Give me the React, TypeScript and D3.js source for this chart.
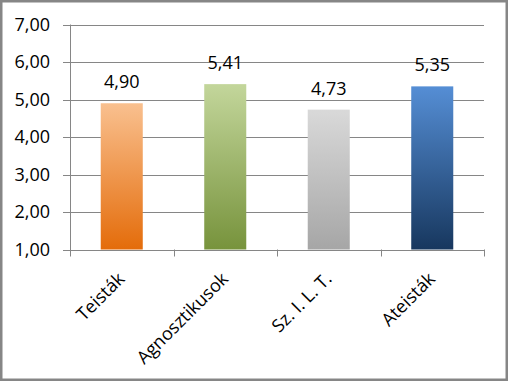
import React from "react";
import * as d3 from "d3";

const categories = ["Teisták", "Agnosztikusok", "Sz. I. L. T.", "Ateisták"];
const values = [4.9, 5.41, 4.73, 5.35];
const valueLabels = ["4,90", "5,41", "4,73", "5,35"];
const yTicks = [1, 2, 3, 4, 5, 6, 7];
const gradTop = ["#F9C08F", "#C3D69B", "#D9D9D9", "#558ED5"];
const gradBottom = ["#E46C0A", "#77933C", "#A6A6A6", "#17375E"];

const W = 508;
const H = 381;
const FONT = "'Open Sans', 'DejaVu Sans', sans-serif";

export default function App() {
  const y = d3.scaleLinear().domain([1, 7]).range([249.5, 24.5]);
  const p = 0.594;
  const x = d3
    .scaleBand<string>()
    .domain(categories)
    .range([70, 484])
    .paddingInner(p)
    .paddingOuter(p / 2);
  const step = x.step();
  const fmt = (v: number) => v.toFixed(2).replace(".", ",");
  const grid = "#868686";

  return (
    <svg
      width={W}
      height={H}
      style={{ position: "absolute", left: 0, top: 0, display: "block" }}
      fontFamily={FONT}
    >
      <defs>
        {categories.map((c, i) => (
          <linearGradient key={c} id={`g${i}`} x1="0" y1="0" x2="0" y2="1">
            <stop offset="0%" stopColor={gradTop[i]} />
            <stop offset="100%" stopColor={gradBottom[i]} />
          </linearGradient>
        ))}
      </defs>
      <rect x={0} y={0} width={W} height={H} fill="#fff" />
      {/* gridlines */}
      {yTicks.map((t) => (
        <line
          key={t}
          x1={63}
          x2={484}
          y1={Math.round(y(t)) + 0.5}
          y2={Math.round(y(t)) + 0.5}
          stroke={grid}
          strokeWidth={1}
        />
      ))}
      {/* y axis line */}
      <line x1={70.5} x2={70.5} y1={y(7)} y2={y(1) + 0.5} stroke={grid} strokeWidth={1} />
      {/* x ticks */}
      {d3.range(categories.length + 1).map((i) => {
        const xx = Math.round(70 + i * step) + 0.5;
        return (
          <line key={i} x1={xx} x2={xx} y1={y(1)} y2={y(1) + 7} stroke={grid} strokeWidth={1} />
        );
      })}
      {/* y labels */}
      {yTicks.map((t) => (
        <text
          key={t}
          x={50}
          y={y(t)}
          dy="0.36em"
          textAnchor="end"
          fontSize={18}
          fill="#000"
        >
          {fmt(t)}
        </text>
      ))}
      {/* bars */}
      {categories.map((c, i) => (
        <rect
          key={c}
          x={x(c)}
          y={y(values[i])}
          width={x.bandwidth()}
          height={y(1) - y(values[i])}
          fill={`url(#g${i})`}
        />
      ))}
      {/* value labels */}
      {categories.map((c, i) => (
        <text
          key={c}
          x={(x(c) as number) + x.bandwidth() / 2}
          y={y(values[i]) - 15}
          textAnchor="middle"
          fontSize={18}
          fill="#000"
        >
          {valueLabels[i]}
        </text>
      ))}
      {/* x labels */}
      {categories.map((c) => {
        const cx = (x(c) as number) + x.bandwidth() / 2;
        return (
          <text
            key={c}
            transform={`translate(${cx + 4},${280}) rotate(-45)`}
            textAnchor="end"
            fontSize={18}
            fill="#000"
          >
            {c}
          </text>
        );
      })}
      {/* border */}
      <rect x={1.25} y={1.25} width={W - 2.5} height={H - 2.5} fill="none" stroke="#868686" strokeWidth={2.5} />
    </svg>
  );
}
